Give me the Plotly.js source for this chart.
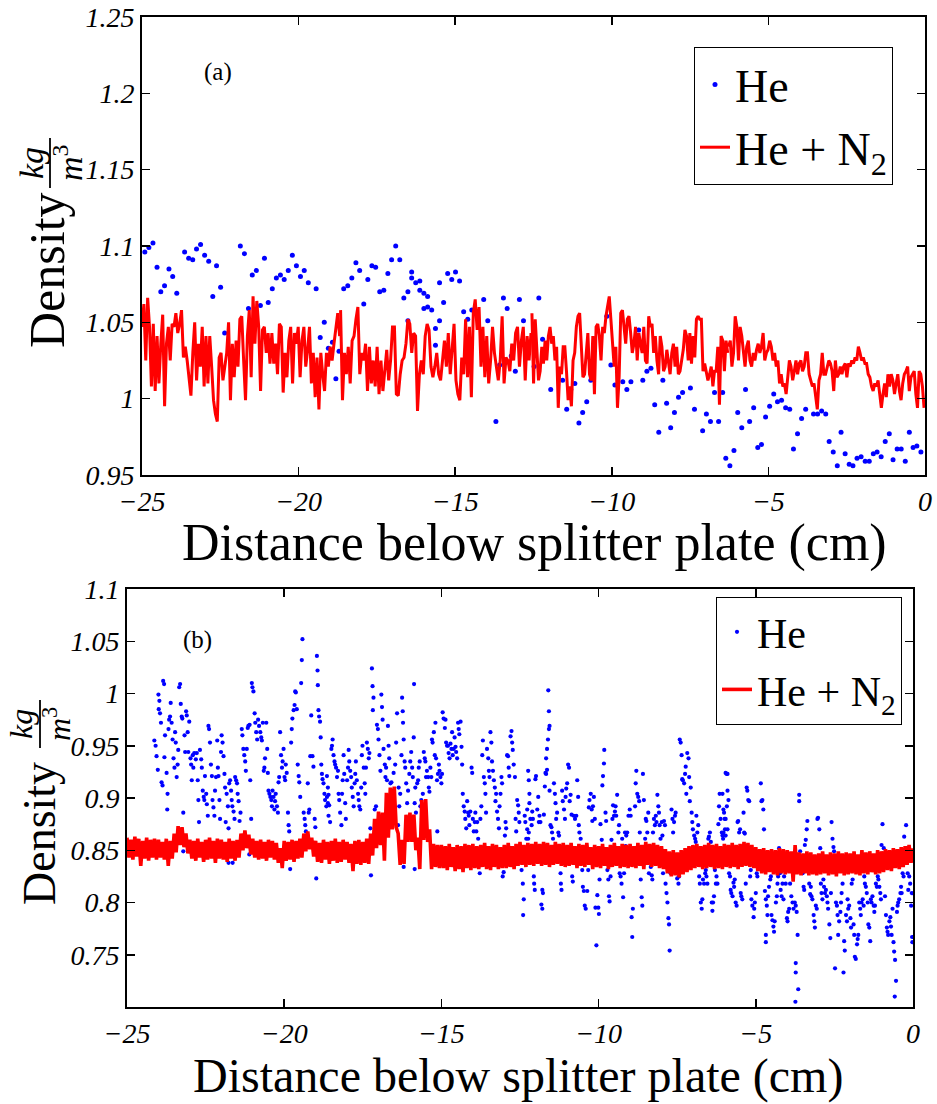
<!DOCTYPE html>
<html><head><meta charset="utf-8">
<script src="https://cdn.plot.ly/plotly-3.0.1.min.js"></script>
<style>html,body{margin:0;padding:0;background:#fff}</style>
</head><body><div id="chart" style="width:937px;height:1104px"></div>
<script>
// ---------- tick labels ----------
const xTickVals = [-25, -20, -15, -10, -5, 0];
const xTickText = ['\u221225', '\u221220', '\u221215', '\u221210', '\u22125', '0'];
const topYTickVals = [0.95, 1, 1.05, 1.1, 1.15, 1.2, 1.25];
const topYTickText = ['0.95', '1', '1.05', '1.1', '1.15', '1.2', '1.25'];
const botYTickVals = [0.75, 0.8, 0.85, 0.9, 0.95, 1, 1.05, 1.1];
const botYTickText = ['0.75', '0.8', '0.85', '0.9', '0.95', '1', '1.05', '1.1'];
const seriesNames = ['He', 'He + N<sub>2</sub>'];

// ---------- panel (a): He points [x, density] ----------
const heTop = [
[-24.91,1.096],[-24.78,1.099],[-24.65,1.102],[-24.52,1.086],[-24.40,1.070],[-24.28,1.074],[-24.14,1.085],[-24.02,1.080],[-23.89,1.069],[-23.64,1.096],
[-23.51,1.092],[-23.38,1.091],[-23.26,1.098],[-23.13,1.101],[-23.00,1.094],[-22.87,1.090],[-22.74,1.067],[-22.62,1.087],[-22.49,1.073],[-22.36,1.043],
[-22.10,1.028],[-21.86,1.100],[-21.73,1.095],[-21.60,1.059],[-21.48,1.081],[-21.35,1.084],[-21.22,1.061],[-21.09,1.092],[-20.97,1.063],[-20.84,1.072],
[-20.71,1.079],[-20.58,1.081],[-20.46,1.078],[-20.33,1.084],[-20.20,1.094],[-20.07,1.087],[-19.94,1.080],[-19.82,1.084],[-19.69,1.076],[-19.44,1.072],
[-19.31,1.040],[-19.18,1.050],[-19.05,1.033],[-18.92,1.037],[-18.81,1.013],[-18.71,1.031],
[-18.56,1.072],[-18.43,1.074],[-18.30,1.079],[-18.17,1.089],[-18.05,1.084],[-17.92,1.062],[-17.79,1.078],[-17.66,1.087],[-17.54,1.086],[-17.41,1.070],
[-17.28,1.071],[-17.15,1.082],[-17.03,1.091],[-16.90,1.100],[-16.77,1.091],[-16.64,1.066],[-16.51,1.070],[-16.39,1.083],[-16.39,1.079],[-16.26,1.076],
[-16.13,1.077],[-16.13,1.071],[-16.00,1.069],[-15.88,1.067],[-16.00,1.059],[-15.88,1.060],[-15.75,1.058],[-16.51,1.051],[-15.63,1.046],[-15.50,1.051],
[-15.50,1.076],[-15.37,1.063],[-15.24,1.082],[-15.11,1.078],[-14.99,1.083],[-14.86,1.077],[-14.73,1.057],[-14.60,1.052],[-14.47,1.058],[-14.09,1.065],
[-13.96,1.051],[-13.70,0.985],[-13.58,1.022],[-13.46,1.066],[-13.34,1.059],[-13.21,1.028],[-13.08,1.018],[-12.95,1.065],[-12.82,1.051],[-15.63,1.035],
[-12.48,1.021],[-12.33,1.066],[-12.21,1.039],[-11.95,1.006],[-11.57,1.012],[-11.44,0.993],[-11.31,1.006],[-11.18,1.010],[-11.05,0.984],[-10.93,0.991],
[-10.80,0.998],[-10.67,1.012],[-10.16,1.054],[-10.03,1.022],[-9.90,1.009],[-9.65,1.011],[-9.52,1.006],[-9.39,1.011],[-9.14,1.045],[-9.01,1.012],
[-8.88,1.018],[-8.75,1.020],[-8.63,0.996],[-8.50,0.978],[-8.37,1.012],[-8.25,0.997],[-8.12,0.981],[-8.00,0.991],[-7.87,1.001],[-7.74,1.004],
[-7.49,1.007],[-7.36,0.993],[-7.10,0.979],[-6.98,0.990],[-6.85,0.985],[-6.72,1.004],[-6.59,0.985],[-6.46,1.004],
[-6.36,0.961],[-6.23,0.956],[-6.10,0.966],[-5.98,0.991],[-5.85,0.981],[-5.73,1.006],[-5.60,0.985],[-5.47,0.994],[-5.34,0.968],[-5.22,0.970],
[-5.09,0.988],[-4.96,0.995],[-4.83,1.003],[-4.71,0.998],[-4.58,0.999],[-4.45,0.994],[-4.32,0.993],[-4.20,0.967],[-4.07,0.977],[-3.94,0.987],
[-3.81,0.993],[-3.56,0.990],[-3.43,0.990],[-3.30,0.992],[-3.17,0.990],[-3.06,0.972],[-2.93,0.965],[-2.80,0.956],[-2.68,0.978],[-2.55,0.964],
[-2.42,0.957],[-2.30,0.956],[-2.17,0.961],[-2.04,0.962],[-1.91,0.959],[-1.78,0.959],[-1.65,0.964],[-1.53,0.965],[-1.40,0.962],[-1.27,0.972],
[-1.14,0.977],[-1.02,0.960],[-0.89,0.967],[-0.76,0.967],[-0.63,0.959],[-0.50,0.978],[-0.38,0.968],[-0.26,0.969],[-0.13,0.965]
];

// ---------- panel (a): He + N2 trace, four evenly sampled stretches ----------
const n2TopSpans = [[-25, -18.69], [-18.66, -12.58], [-12.55, -6.30], [-6.27, -0.03]];
const n2TopA = [
1.047,1.062,1.025,1.066,1.047,1.008,1.049,1.005,1.041,1.010,
1.036,1.055,0.995,1.036,1.047,1.025,1.049,1.047,1.056,1.043,
1.049,1.058,1.027,1.034,1.025,1.014,1.002,1.030,1.050,1.012,
1.036,1.021,1.047,1.008,1.041,1.010,1.041,1.021,0.999,0.990,
0.985,1.027,1.030,1.012,1.021,1.030,1.050,0.999,1.036,1.014,
1.038,1.021,1.052,1.054,1.025,0.999,1.041,1.058,1.014,1.067,
1.036,1.064,1.047,1.005,1.045,1.047,1.030,1.043,1.023,1.043,
1.023,1.036,1.016,1.049,1.047,1.004,1.030,1.014,1.038,1.047,
1.010,1.043,1.036,1.047,1.014,1.038,1.047,1.021,1.032,1.047,
1.010,1.030,1.001,1.027,0.993,1.030,1.016,1.005,1.030,1.021,
1.034,1.025,1.036,1.047,1.056,1.041];
const n2TopB = [
1.058,0.999,1.030,1.016,1.034,1.010,1.038,1.041,1.052,1.060,
1.016,1.030,1.025,1.036,1.005,1.034,1.010,1.025,1.008,1.034,
1.003,1.025,1.005,1.018,1.032,1.012,1.025,1.047,1.047,1.003,
1.002,1.016,1.025,1.027,1.036,1.052,1.049,1.030,1.043,1.041,
0.992,1.016,1.025,1.016,1.041,1.049,1.045,1.021,1.014,1.021,
1.030,1.016,1.012,1.025,1.038,1.021,1.043,1.016,1.034,1.049,
1.012,1.003,0.999,1.027,1.016,1.052,1.014,1.047,1.001,1.056,
1.065,1.045,1.060,1.021,1.047,1.014,1.041,1.010,1.025,1.047,
1.030,1.021,1.012,1.025,1.054,1.010,1.027,1.025,1.018,1.036,
1.025,1.043,1.047,1.021,1.038,1.047,1.012,1.041,1.025,1.043];
const n2TopC = [
1.056,1.010,1.052,1.030,1.012,1.018,1.034,1.023,1.038,1.025,
1.041,1.047,1.036,1.041,1.025,1.034,0.994,1.021,1.016,1.034,
1.034,1.018,0.999,1.008,0.995,1.025,1.030,1.047,1.054,1.056,
1.034,1.014,1.016,1.032,1.043,1.016,1.012,1.041,1.003,1.047,
1.049,1.041,1.025,1.047,1.043,1.054,1.060,1.067,1.052,1.038,
1.021,1.034,0.994,1.014,1.056,1.058,1.047,1.036,1.052,1.054,
1.043,1.030,1.036,1.047,1.025,1.043,1.036,1.030,1.047,1.025,
1.023,1.054,1.047,1.049,1.030,1.041,1.025,1.016,1.041,1.034,
1.018,1.021,1.032,1.023,1.016,1.030,1.036,1.021,1.034,1.016,
1.018,1.025,1.032,1.045,1.041,1.025,1.043,1.023,1.041,1.027,
1.052,1.054,1.052,1.052,1.018,1.023,1.016,1.012,1.016,1.021,
1.008,1.018,1.018,1.034,0.996,1.041,1.038,1.018,1.038,1.030];
const n2TopD = [
1.034,1.038,1.021,1.030,1.054,1.047,1.025,1.047,1.041,1.030,
1.021,1.034,1.038,1.025,1.021,1.030,1.025,1.032,1.036,1.030,
1.034,1.043,1.025,1.030,1.032,1.038,1.034,1.025,1.030,1.021,
1.025,1.010,1.016,1.008,1.010,1.003,1.014,1.025,1.021,1.012,
1.018,1.025,1.016,1.023,1.025,1.018,1.021,1.030,1.030,1.016,
1.012,1.008,1.010,1.003,0.993,1.012,1.016,1.030,1.016,1.016,
1.021,1.025,1.023,1.018,1.005,1.025,1.014,1.016,1.021,1.016,
1.021,1.023,1.014,1.023,1.021,1.025,1.023,1.027,1.025,1.034,
1.030,1.025,1.027,1.023,1.023,1.016,1.014,1.008,1.005,1.010,
1.008,1.012,1.003,0.994,1.003,1.010,1.001,1.016,1.008,1.016,
1.012,1.003,1.010,1.016,1.005,0.999,1.010,1.016,1.018,1.021,
1.005,1.014,1.016,1.018,1.003,0.994,1.018,1.016,1.008,0.994];

// ---------- panel (b): He points [x, density] ----------
const heBottom = [
[-24.13,0.955],[-24.09,0.950],[-24.06,0.940],[-24.02,0.927],[-24.00,0.999],[-23.97,0.993],[-23.99,0.985],[-23.95,0.981],[-23.92,0.972],[-23.90,0.915],
[-23.87,0.912],[-23.85,1.012],[-23.82,1.009],[-23.81,0.939],[-23.79,0.960],[-23.74,0.924],[-23.71,0.904],[-23.72,0.889],[-23.68,0.966],[-23.66,0.975],
[-23.63,0.978],[-23.61,0.991],[-23.58,0.972],[-23.55,0.956],[-23.52,0.938],[-23.49,0.929],[-23.47,0.963],[-23.45,0.953],[-23.42,0.920],[-23.39,0.932],
[-23.37,0.946],[-23.34,1.006],[-23.31,1.009],[-23.29,0.990],[-23.26,0.978],[-23.24,0.976],[-23.21,0.886],[-23.17,0.960],[-23.15,0.944],[-23.12,0.983],
[-23.10,0.979],[-23.07,0.963],[-23.05,0.944],[-23.02,0.973],[-22.98,0.938],[-22.96,0.932],[-22.94,0.917],[-22.91,0.941],[-22.89,0.929],[-22.86,0.943],
[-22.81,0.937],[-22.78,0.943],[-22.75,0.917],[-22.73,0.898],[-22.71,0.877],[-22.68,0.946],[-22.64,0.937],[-22.62,0.929],[-22.59,0.907],[-22.56,0.901],
[-22.54,0.898],[-22.52,0.921],[-22.48,0.904],[-22.46,0.894],[-22.43,0.883],[-22.41,0.969],[-22.39,0.966],[-22.36,0.953],[-22.33,0.932],[-22.30,0.921],
[-22.28,0.898],[-22.25,0.891],[-22.22,0.883],[-22.20,0.907],[-22.17,0.920],[-22.13,0.955],[-22.11,0.929],[-22.09,0.921],[-22.06,0.898],[-22.04,0.880],
[-22.01,0.944],[-21.99,0.960],[-21.96,0.953],[-21.93,0.940],[-21.90,0.923],[-21.88,0.910],[-21.86,0.877],[-21.83,0.904],[-21.79,0.892],[-21.77,0.871],
[-21.75,0.914],[-21.72,0.917],[-21.69,0.907],[-21.67,0.898],[-21.65,0.892],[-21.61,0.887],[-21.58,0.880],[-21.56,0.920],[-21.53,0.917],[-21.50,0.914],
[-21.48,0.904],[-21.45,0.897],[-21.42,0.878],[-21.39,0.886],[-21.35,0.966],[-21.33,0.960],[-21.30,0.947],[-21.27,0.941],[-21.24,0.935],[-21.22,0.926],
[-21.19,0.947],[-21.16,0.967],[-21.14,0.969],[-21.10,0.970],[-21.08,0.917],[-21.05,0.880],[-21.03,1.010],[-21.01,1.006],[-20.98,1.002],[-20.94,0.981],
[-20.92,0.972],[-20.89,0.963],[-20.86,0.956],[-20.83,0.975],[-20.80,0.969],[-20.76,0.963],[-20.73,0.958],[-20.71,0.955],[-20.68,0.972],[-20.65,0.926],
[-20.63,0.929],[-20.61,0.938],[-20.57,0.972],[-20.54,0.947],[-20.52,0.924],[-20.50,0.907],[-20.47,0.904],[-20.44,0.901],[-20.41,0.898],[-20.39,0.892],
[-20.37,0.907],[-20.34,0.901],[-20.31,0.889],[-20.29,0.897],[-20.27,0.904],[-20.23,0.892],[-20.20,0.886],[-20.18,0.915],[-20.16,0.920],[-20.13,0.963],
[-20.10,0.941],[-20.07,0.929],[-20.05,0.935],[-20.02,0.947],[-19.99,0.920],[-19.97,0.917],[-19.95,0.932],[-19.92,0.924],[-19.88,0.886],[-19.86,0.874],
[-19.84,0.868],[-19.81,0.832],[-19.78,0.953],[-19.76,0.966],[-19.74,0.976],[-19.70,0.984],[-19.67,0.989],[-19.65,1.002],[-19.63,1.001],[-19.60,0.985],
[-19.57,0.932],[-19.54,0.921],[-19.52,0.915],[-19.49,0.901],[-19.46,1.010],[-19.44,1.032],[-19.42,1.052],[-19.38,0.886],[-19.35,0.880],[-19.33,0.874],
[-19.31,0.868],[-19.28,0.861],[-19.25,0.914],[-19.22,0.886],[-19.20,0.889],[-19.17,0.940],[-19.14,0.979],[-19.10,0.940],[-19.07,0.930],[-19.03,0.880],
[-19.01,0.872],[-18.98,0.823],[-18.96,1.036],[-18.94,1.022],[-18.93,1.008],[-18.91,0.984],[-18.89,0.978],[-18.86,0.973],[-18.84,0.958],[-18.82,0.932],
[-18.80,0.923],[-18.78,0.918],[-18.75,0.914],[-18.72,0.904],[-18.70,0.898],[-18.66,0.892],[-18.64,0.901],[-18.61,0.895],[-18.59,0.883],
[-23.21,0.849],[-21.77,0.838],[-21.64,0.838],[-21.11,0.846],
[-18.64,0.921],[-18.61,0.910],[-18.59,0.903],[-18.57,0.893],[-18.54,0.877],[-18.50,0.947],[-18.48,0.950],[-18.46,0.956],[-18.43,0.941],[-18.40,0.935],
[-18.38,0.932],[-18.35,0.929],[-18.32,0.920],[-18.29,0.926],[-18.27,0.904],[-18.25,0.898],[-18.22,0.886],[-18.18,0.874],[-18.16,0.904],[-18.14,0.917],
[-18.11,0.941],[-18.09,0.923],[-18.06,0.895],[-18.04,0.880],[-18.00,0.917],[-17.97,0.929],[-17.95,0.946],[-17.93,0.935],[-17.90,0.926],[-17.87,0.920],
[-17.85,0.910],[-17.82,0.901],[-17.79,0.892],[-17.76,0.914],[-17.74,0.923],[-17.72,0.935],[-17.69,0.917],[-17.65,0.904],[-17.63,0.898],[-17.61,0.892],
[-17.58,0.889],[-17.55,0.910],[-17.53,0.941],[-17.51,0.950],[-17.47,0.929],[-17.44,0.914],[-17.42,0.904],[-17.40,0.929],[-17.37,0.953],[-17.34,0.947],
[-17.31,0.938],[-17.29,0.943],[-17.26,0.871],[-17.24,0.826],[-17.21,1.024],[-17.19,1.007],[-17.16,0.996],[-17.18,0.984],[-17.12,0.889],[-17.10,0.878],
[-17.08,0.892],[-17.05,0.970],[-17.02,0.966],[-17.00,0.956],[-16.97,0.941],[-16.94,0.926],[-16.91,0.999],[-16.89,0.987],[-16.87,0.975],[-16.84,0.947],
[-16.80,0.932],[-16.78,0.920],[-16.76,0.929],[-16.73,0.917],[-16.70,0.969],[-16.68,0.950],[-16.66,0.938],[-16.62,0.914],[-16.59,0.915],[-16.57,0.907],
[-16.52,0.924],[-16.49,0.883],[-16.47,0.932],[-16.44,0.953],[-16.41,0.981],[-16.38,0.874],[-16.36,0.910],[-16.34,0.892],[-16.31,0.904],[-16.27,0.941],
[-16.25,0.996],[-16.23,0.983],[-16.22,0.972],[-16.20,0.956],[-16.17,0.935],[-16.15,0.929],[-16.12,0.914],[-16.09,0.895],[-16.06,0.907],[-16.04,0.880],
[-16.02,0.923],[-15.99,0.935],[-15.96,0.944],[-15.93,0.929],[-15.91,0.920],[-15.88,0.958],[-15.87,1.009],[-15.85,0.895],[-15.83,0.910],[-15.81,0.886],
[-15.77,0.914],[-15.74,0.917],[-15.72,0.929],[-15.69,0.935],[-15.67,0.892],[-15.64,0.898],[-15.62,0.880],[-15.59,0.904],[-15.56,0.944],[-15.53,0.938],
[-15.51,0.935],[-15.49,0.920],[-15.46,0.926],[-15.42,0.920],[-15.40,0.910],[-15.38,0.906],[-15.35,0.929],[-15.32,0.920],[-15.30,0.956],[-15.28,0.953],
[-15.24,0.963],[-15.21,0.941],[-15.19,0.972],[-15.17,0.938],[-15.14,0.917],[-15.13,0.868],[-15.11,0.923],[-15.08,0.932],[-15.06,0.926],[-15.03,0.920],
[-15.00,0.914],[-14.98,0.923],[-14.96,0.982],[-14.93,0.976],[-14.89,0.967],[-14.87,0.975],[-14.85,0.953],[-14.82,0.950],[-14.79,0.950],[-14.77,0.943],
[-14.74,0.938],[-14.71,0.952],[-14.68,0.947],[-14.66,0.963],[-14.64,0.941],[-14.61,0.947],[-14.58,0.958],[-14.55,0.949],[-14.53,0.944],[-14.50,0.938],
[-14.47,0.972],[-14.45,0.966],[-14.43,0.961],[-14.39,0.973],[-14.36,0.949],[-14.34,0.932],[-14.32,0.904],[-14.29,0.892],[-14.26,0.887],[-14.24,0.880],
[-14.21,0.871],[-14.18,0.897],[-14.15,0.886],[-14.13,0.883],[-14.11,0.874],[-14.08,0.887],[-14.04,0.929],[-14.02,0.924],[-14.00,0.880],[-13.97,0.868],
[-13.94,0.877],[-13.92,0.886],[-13.89,0.868],[-13.86,0.877],[-13.83,0.861],[-13.81,0.835],[-13.78,0.828],[-13.76,0.880],[-13.73,0.892],[-13.70,0.941],
[-13.68,0.955],[-13.65,0.920],[-13.62,0.914],[-13.60,0.904],[-13.58,0.886],[-13.55,0.947],[-13.51,0.938],[-13.49,0.926],[-13.47,0.920],[-13.44,0.963],
[-13.41,0.953],[-13.39,0.935],[-13.36,0.926],[-13.33,0.917],[-13.30,0.910],[-13.28,0.897],[-13.26,0.904],[-13.23,0.887],[-13.20,0.880],[-13.17,0.871],
[-13.15,0.892],[-13.12,0.904],[-13.09,0.920],[-13.07,0.914],[-13.05,0.825],[-13.02,0.829],[-12.98,0.864],[-12.96,0.877],[-12.94,0.871],[-12.91,0.941],
[-12.88,0.940],[-12.86,0.929],[-12.84,0.921],[-12.80,0.959],[-12.77,0.964],[-12.75,0.953],[-12.73,0.946],[-12.70,0.932],[-12.66,0.920],[-12.64,0.880],
[-12.62,0.868],[-12.59,0.898],[-12.56,0.893],[-12.54,0.886],[-12.52,0.877],[-12.48,0.849],[-12.45,0.831],[-12.41,0.818],[-12.38,0.803],[-12.40,0.788],
[-12.35,0.883],[-12.33,0.877],[-12.30,0.861],[-12.27,0.889],[-12.24,0.926],[-12.22,0.917],[-12.20,0.904],[-16.20,0.834],[-15.85,0.832],
[-12.27,0.870],[-12.24,0.861],[-12.22,0.867],[-12.20,0.895],[-12.17,0.880],[-12.13,0.874],[-12.11,0.887],[-12.09,0.880],[-12.06,0.825],[-12.05,0.818],
[-12.03,0.812],[-12.01,0.918],[-11.99,0.921],[-11.95,0.889],[-11.92,0.901],[-11.90,0.877],[-11.88,0.883],[-11.85,0.877],[-11.82,0.798],[-11.79,0.794],
[-11.79,0.812],[-11.77,0.809],[-11.74,0.884],[-11.71,0.911],[-11.69,0.924],[-11.67,0.923],[-11.67,0.938],[-11.64,0.927],[-11.64,0.947],[-11.61,0.956],
[-11.58,0.966],[-11.56,0.969],[-11.58,0.983],[-11.60,1.003],[-11.56,0.907],[-11.53,0.874],[-11.50,0.872],[-11.48,0.867],[-11.45,0.861],[-11.42,0.914],
[-11.39,0.904],[-11.37,0.895],[-11.35,0.880],[-11.32,0.886],[-11.28,0.867],[-11.26,0.864],[-11.21,0.828],[-11.20,0.818],[-11.18,0.812],[-11.16,0.907],
[-11.14,0.897],[-11.10,0.889],[-11.07,0.880],[-11.05,0.901],[-11.03,0.909],[-11.00,0.914],[-10.97,0.932],[-10.94,0.929],[-10.92,0.897],[-10.89,0.903],
[-10.86,0.884],[-10.84,0.825],[-10.82,0.820],[-10.79,0.883],[-10.75,0.880],[-10.71,0.883],[-10.68,0.917],[-10.65,0.901],[-10.63,0.874],[-10.61,0.867],
[-10.57,0.861],[-10.54,0.847],[-10.52,0.831],[-10.50,0.815],[-10.47,0.811],[-10.44,0.797],[-10.41,0.794],[-10.36,0.811],[-10.33,0.831],[-10.31,0.891],
[-10.29,0.898],[-10.25,0.904],[-10.22,0.889],[-10.20,0.878],[-10.18,0.892],[-10.15,0.901],[-10.12,0.880],[-10.10,0.795],[-10.07,0.759],[-10.04,0.807],
[-10.01,0.795],[-9.99,0.789],[-9.97,0.822],[-9.94,0.875],[-9.90,0.860],[-9.88,0.912],[-9.86,0.921],[-9.83,0.933],[-9.82,0.946],[-9.78,0.886],
[-9.76,0.878],[-9.72,0.831],[-9.69,0.822],[-9.67,0.806],[-9.65,0.801],[-9.62,0.825],[-9.59,0.860],[-9.56,0.880],[-9.54,0.893],[-9.51,0.883],
[-9.48,0.887],[-9.46,0.892],[-9.44,0.883],[-9.41,0.903],[-9.37,0.867],[-9.35,0.874],[-9.33,0.828],[-9.30,0.825],[-9.27,0.818],[-9.25,0.861],
[-9.22,0.805],[-9.19,0.828],[-9.16,0.867],[-9.14,0.854],[-9.12,0.864],[-9.09,0.867],[-9.05,0.883],[-9.01,0.889],[-8.98,0.883],[-8.95,0.786],
[-8.93,0.767],[-8.91,0.794],[-8.87,0.852],[-8.84,0.892],[-8.82,0.914],[-8.80,0.926],[-8.77,0.904],[-8.74,0.901],[-8.71,0.897],[-8.69,0.867],
[-8.66,0.822],[-8.63,0.805],[-8.61,0.797],[-8.59,0.923],[-8.56,0.898],[-8.52,0.861],[-8.50,0.880],[-8.48,0.878],[-8.45,0.867],[-8.42,0.886],
[-8.40,0.828],[-8.34,0.834],[-8.31,0.826],[-8.29,0.822],[-8.27,0.867],[-8.24,0.880],[-8.21,0.874],[-8.18,0.883],[-8.16,0.877],[-8.13,0.903],
[-8.10,0.892],[-8.08,0.886],[-8.06,0.874],[-8.03,0.861],[-7.99,0.877],[-7.97,0.864],[-7.95,0.828],[-7.92,0.878],[-7.89,0.874],[-7.87,0.818],
[-7.84,0.809],[-7.81,0.800],[-7.78,0.785],[-7.76,0.779],[-7.74,0.754],[-7.71,0.828],[-7.68,0.889],[-7.65,0.880],[-7.63,0.867],[-7.60,0.877],
[-7.57,0.883],[-7.55,0.886],[-7.50,0.823],[-7.46,0.818],[-7.44,0.825],[-7.42,0.956],[-7.39,0.953],[-7.36,0.941],[-7.34,0.918],[-7.32,0.917],
[-7.28,0.914],[-7.25,0.923],[-7.23,0.930],[-7.21,0.904],[-7.18,0.943],[-7.14,0.938],[-7.12,0.920],[-7.10,0.897],[-7.07,0.910],[-7.04,0.886],
[-7.02,0.877],[-7.00,0.870],[-6.96,0.864],[-6.93,0.861],[-6.91,0.858],[-6.89,0.883],[-6.86,0.867],[-6.83,0.874],[-6.80,0.825],[-6.78,0.818],
[-6.75,0.800],[-6.72,0.794],[-6.70,0.803],[-6.68,0.822],[-6.645,0.818],[-6.61,0.828],[-6.59,0.831],[-6.57,0.825],[-6.54,0.818],[-6.51,0.861],
[-6.49,0.863],[-6.46,0.867],[-6.43,0.858],[-6.40,0.800],[-6.38,0.792],[-6.36,0.800],[-6.33,0.806],[-6.30,0.831],[-6.27,0.818],[-6.25,0.825],
[-6.22,0.818],[-6.19,0.875],[-6.17,0.892],[-6.15,0.904],[-6.12,0.880],[-6.08,0.867],[-6.06,0.864],[-6.04,0.861],[-6.01,0.886],[-5.98,0.870],
[-5.96,0.880],[-5.93,0.923],[-5.90,0.907],[-5.87,0.898],
[-6.06,0.904],[-6.03,0.889],[-5.99,0.880],[-6.03,0.867],[-5.96,0.924],[-5.96,0.864],[-5.92,0.892],[-5.90,0.923],[-5.90,0.870],
[-5.85,0.828],[-5.82,0.825],[-5.80,0.812],[-5.78,0.809],[-5.74,0.806],[-5.71,0.819],[-5.69,0.815],[-5.67,0.822],[-5.64,0.800],[-5.61,0.797],
[-5.58,0.877],[-5.56,0.878],[-5.53,0.867],[-5.50,0.870],[-5.48,0.809],[-5.46,0.806],[-5.43,0.803],[-5.39,0.886],[-5.37,0.867],[-5.35,0.866],
[-5.32,0.818],[-5.29,0.910],[-5.27,0.907],[-5.24,0.898],[-5.21,0.897],[-5.18,0.825],[-5.16,0.831],[-5.14,0.803],[-5.11,0.797],[-5.07,0.786],
[-5.05,0.794],[-5.03,0.800],[-5.00,0.809],[-4.97,0.828],[-4.95,0.825],[-4.89,0.837],[-4.86,0.849],[-4.84,0.914],[-4.82,0.897],[-4.79,0.898],
[-4.76,0.889],[-4.74,0.870],[-4.71,0.811],[-4.68,0.803],[-4.68,0.769],[-4.68,0.762],[-4.65,0.797],[-4.63,0.788],[-4.61,0.806],[-4.58,0.815],
[-4.54,0.822],[-4.52,0.825],[-4.50,0.788],[-4.47,0.783],[-4.44,0.777],[-4.42,0.772],[-4.40,0.782],[-4.36,0.800],[-4.33,0.806],[-4.31,0.818],
[-4.29,0.825],[-4.26,0.852],[-4.23,0.828],[-4.21,0.812],[-4.18,0.806],[-4.15,0.818],[-4.12,0.803],[-4.10,0.825],[-4.08,0.837],[-4.05,0.818],
[-4.01,0.785],[-3.99,0.782],[-3.97,0.791],[-3.94,0.794],[-3.91,0.818],[-3.89,0.831],[-3.87,0.806],[-3.83,0.800],[-3.80,0.794],[-3.78,0.831],
[-3.76,0.800],[-3.73,0.797],[-3.70,0.791],[-3.67,0.769],[-3.73,0.742],[-3.73,0.733],[-3.65,0.717],[-3.74,0.705],[-3.62,0.903],[-3.62,0.897],
[-3.59,0.849],[-3.57,0.837],[-3.55,0.831],[-3.51,0.828],[-3.48,0.815],[-3.46,0.812],[-3.44,0.855],[-3.41,0.860],[-3.38,0.870],[-3.36,0.878],
[-3.33,0.843],[-3.30,0.818],[-3.27,0.808],[-3.25,0.815],[-3.23,0.806],[-3.20,0.803],[-3.16,0.788],[-3.14,0.782],[-3.12,0.776],[-3.09,0.797],
[-3.06,0.794],[-3.04,0.880],[-3.02,0.881],[-2.98,0.870],[-2.95,0.852],[-2.93,0.818],[-2.91,0.809],[-2.88,0.803],[-2.85,0.822],[-2.83,0.815],
[-2.80,0.809],[-2.77,0.812],[-2.74,0.806],[-2.72,0.800],[-2.70,0.794],[-2.66,0.779],[-2.63,0.766],[-2.61,0.809],[-2.59,0.877],[-2.56,0.861],
[-2.53,0.853],[-2.51,0.849],[-2.48,0.737],[-2.45,0.800],[-2.42,0.797],[-2.40,0.788],[-2.38,0.769],[-2.35,0.782],[-2.31,0.791],[-2.29,0.800],
[-2.27,0.809],[-2.24,0.818],[-2.21,0.733],[-2.19,0.763],[-2.17,0.754],[-2.13,0.788],[-2.10,0.782],[-2.08,0.803],[-2.06,0.794],[-2.03,0.797],
[-1.99,0.785],[-1.97,0.776],[-1.95,0.818],[-1.92,0.822],[-1.89,0.779],[-1.87,0.769],[-1.85,0.748],[-1.82,0.746],[-1.78,0.760],[-1.76,0.765],
[-1.74,0.769],[-1.71,0.800],[-1.68,0.794],[-1.66,0.788],[-1.64,0.800],[-1.60,0.803],[-1.57,0.797],[-1.55,0.825],[-1.53,0.818],[-1.50,0.815],
[-1.47,0.809],[-1.44,0.800],[-1.42,0.779],[-1.39,0.776],[-1.36,0.763],[-1.34,0.803],[-1.32,0.800],[-1.29,0.806],[-1.25,0.797],[-1.23,0.791],
[-1.21,0.797],[-1.18,0.818],[-1.15,0.815],[-1.12,0.825],[-1.10,0.822],[-1.07,0.815],[-1.04,0.809],[-1.02,0.803],[-1.00,0.855],[-0.97,0.875],
[-0.93,0.852],[-0.91,0.843],[-0.89,0.806],[-0.86,0.788],[-0.83,0.776],[-0.81,0.772],[-0.79,0.769],[-0.75,0.782],[-0.72,0.786],[-0.70,0.777],
[-0.68,0.769],[-0.65,0.794],[-0.62,0.762],[-0.60,0.753],[-0.57,0.745],[-0.54,0.725],[-0.58,0.710],[-0.51,0.791],[-0.49,0.797],[-0.47,0.800],
[-0.44,0.803],[-0.40,0.809],[-0.38,0.815],[-0.36,0.809],[-0.33,0.828],[-0.30,0.825],[-0.28,0.863],[-0.22,0.874],[-0.19,0.852],[-0.17,0.828],
[-0.15,0.812],[-0.12,0.825],[-0.09,0.818],[-0.06,0.797],[-0.04,0.809],[-0.03,0.767],[-0.02,0.762]
];

// ---------- panel (b): He + N2 trace (evenly sampled, upper/lower edges of the noisy trace) ----------
const n2BottomSpan = [-25, 0];
const n2Bottom = [
0.862,0.843,0.860,0.841,0.863,0.844,0.861,0.835,0.859,0.842,0.862,0.840,0.860,0.843,0.861,0.841,
0.860,0.843,0.858,0.841,0.861,0.835,0.859,0.842,0.866,0.848,0.873,0.855,0.872,0.853,0.866,0.847,
0.860,0.842,0.859,0.840,0.861,0.843,0.858,0.839,0.860,0.841,0.862,0.842,0.859,0.838,0.861,0.842,
0.860,0.841,0.858,0.839,0.861,0.842,0.859,0.840,0.860,0.843,0.866,0.850,0.869,0.852,0.865,0.846,
0.861,0.843,0.859,0.841,0.860,0.842,0.858,0.840,0.860,0.843,0.859,0.841,0.857,0.838,0.852,0.833,
0.859,0.840,0.858,0.841,0.860,0.839,0.859,0.842,0.861,0.843,0.866,0.849,0.868,0.851,0.862,0.844,
0.859,0.839,0.857,0.838,0.860,0.841,0.858,0.837,0.859,0.840,0.861,0.838,0.858,0.839,0.860,0.841,
0.858,0.838,0.856,0.830,0.859,0.837,0.860,0.836,0.858,0.838,0.861,0.837,0.866,0.845,0.880,0.852,
0.887,0.855,0.886,0.840,0.905,0.862,0.910,0.870,0.911,0.872,0.866,0.836,0.860,0.837,0.884,0.858,
0.886,0.858,0.884,0.850,0.862,0.832,0.898,0.860,0.899,0.858,0.870,0.832,0.856,0.834,0.855,0.833,
0.855,0.833,0.854,0.831,0.856,0.834,0.853,0.830,0.855,0.832,0.854,0.829,0.856,0.833,0.855,0.831,
0.856,0.833,0.854,0.832,0.855,0.834,0.857,0.832,0.854,0.831,0.856,0.834,0.855,0.832,0.853,0.833,
0.855,0.833,0.857,0.834,0.854,0.832,0.856,0.835,0.858,0.836,0.855,0.834,0.857,0.836,0.856,0.835,
0.858,0.837,0.856,0.835,0.858,0.836,0.857,0.834,0.855,0.836,0.858,0.837,0.856,0.835,0.857,0.834,
0.855,0.835,0.857,0.836,0.854,0.833,0.856,0.835,0.855,0.834,0.857,0.836,0.853,0.832,0.855,0.834,
0.854,0.833,0.856,0.835,0.853,0.832,0.855,0.834,0.857,0.835,0.854,0.833,0.856,0.834,0.855,0.833,
0.856,0.834,0.854,0.833,0.857,0.835,0.855,0.832,0.858,0.836,0.856,0.834,0.857,0.835,0.855,0.833,
0.854,0.832,0.851,0.828,0.849,0.825,0.850,0.826,0.848,0.824,0.850,0.827,0.852,0.829,0.854,0.831,
0.855,0.833,0.856,0.834,0.854,0.832,0.855,0.833,0.857,0.834,0.855,0.832,0.856,0.833,0.854,0.832,
0.856,0.834,0.855,0.833,0.857,0.834,0.855,0.832,0.856,0.834,0.858,0.835,0.857,0.834,0.855,0.833,
0.853,0.830,0.851,0.828,0.852,0.827,0.850,0.829,0.851,0.827,0.850,0.826,0.852,0.828,0.851,0.827,
0.850,0.828,0.849,0.820,0.855,0.827,0.848,0.826,0.847,0.828,0.849,0.826,0.848,0.827,0.846,0.826,
0.847,0.827,0.849,0.828,0.846,0.826,0.848,0.827,0.847,0.825,0.849,0.828,0.847,0.826,0.848,0.827,
0.847,0.828,0.849,0.827,0.846,0.826,0.850,0.828,0.848,0.827,0.849,0.829,0.847,0.827,0.850,0.828,
0.849,0.829,0.851,0.831,0.850,0.830,0.852,0.833,0.851,0.832,0.853,0.834,0.854,0.836,0.855,0.838,
0.852];

// ---------- build traces ----------
const BLUE = '#0000ff', RED = '#ff0000';
const FONT = 'Liberation Serif';
function evenTrace(vals, span, xa, ya, show, leg, width) {
  return {type:'scatter', mode:'lines', y: vals, x0: span[0], dx: (span[1]-span[0])/(vals.length-1),
    xaxis: xa, yaxis: ya, name: seriesNames[1], showlegend: show, legend: leg,
    line:{color:RED, width: width}, hoverinfo:'skip'};
}
const traces = [
  {type:'scatter', mode:'markers', x: heTop.map(p=>p[0]), y: heTop.map(p=>p[1]), xaxis:'x', yaxis:'y',
   name: seriesNames[0], legend:'legend', marker:{color:BLUE, size:5}},
  evenTrace(n2TopA, n2TopSpans[0], 'x', 'y', true, 'legend', 3),
  evenTrace(n2TopB, n2TopSpans[1], 'x', 'y', false, 'legend', 3),
  evenTrace(n2TopC, n2TopSpans[2], 'x', 'y', false, 'legend', 3),
  evenTrace(n2TopD, n2TopSpans[3], 'x', 'y', false, 'legend', 3),
  {type:'scatter', mode:'markers', x: heBottom.map(p=>p[0]), y: heBottom.map(p=>p[1]), xaxis:'x2', yaxis:'y2',
   name: seriesNames[0], legend:'legend2', marker:{color:BLUE, size:4.2}},
  evenTrace(n2Bottom, n2BottomSpan, 'x2', 'y2', true, 'legend2', 3.6)
];

const italic = arr => arr.map(t => '<i>' + t + '</i>');
function axisBase(extra) {
  return Object.assign({showgrid:false, zeroline:false, showline:true, linecolor:'black', linewidth:2,
    mirror:'ticks', ticks:'inside', ticklen:8, tickwidth:1.5, tickcolor:'black',
    tickfont:{family:FONT, size:28, color:'black'}}, extra);
}
const W = 937, H = 1104;
const px = v => v / W, py = v => 1 - v / H;

const layout = {
  width: W, height: H, margin:{l:0, r:0, t:0, b:0},
  paper_bgcolor:'white', plot_bgcolor:'white',
  font:{family:FONT, color:'black'},
  xaxis: axisBase({domain:[px(142), px(925)], range:[-25,0], anchor:'y', tickvals:xTickVals, ticktext:italic(xTickText)}),
  yaxis: axisBase({domain:[py(475), py(17)], range:[0.95,1.25], anchor:'x', tickvals:topYTickVals, ticktext:italic(topYTickText)}),
  xaxis2: axisBase({domain:[px(127), px(913)], range:[-25,0], anchor:'y2', tickvals:xTickVals, ticktext:italic(xTickText)}),
  yaxis2: axisBase({domain:[py(1007), py(589)], range:[0.7,1.1], anchor:'x2', tickvals:botYTickVals, ticktext:italic(botYTickText)}),
  legend: {x: px(893), xanchor:'right', y: py(47), yanchor:'top', bgcolor:'white', bordercolor:'black', borderwidth:1,
    font:{family:FONT, size:46, color:'black'}, itemwidth:30, tracegroupgap:0},
  legend2: {x: px(902), xanchor:'right', y: py(597), yanchor:'top', bgcolor:'white', bordercolor:'black', borderwidth:1,
    font:{family:FONT, size:42, color:'black'}, itemwidth:30, tracegroupgap:0},
  annotations: [
    {text:'Distance below splitter plate (cm)', xref:'paper', yref:'paper', x:px(534), y:py(543), showarrow:false,
     xanchor:'center', yanchor:'middle', font:{family:FONT, size:52, color:'black'}},
    {text:'Distance below splitter plate (cm)', xref:'paper', yref:'paper', x:px(518), y:py(1076), showarrow:false,
     xanchor:'center', yanchor:'middle', font:{family:FONT, size:48, color:'black'}},
    {text:'Density', xref:'paper', yref:'paper', x:px(47), y:py(270), textangle:-90, showarrow:false,
     xanchor:'center', yanchor:'middle', font:{family:FONT, size:50, color:'black'}},
    {text:'<i>kg</i>', xref:'paper', yref:'paper', x:px(31), y:py(163), textangle:-90, showarrow:false,
     xanchor:'center', yanchor:'middle', font:{family:FONT, size:34, color:'black'}},
    {text:'<i>m</i><sup>3</sup>', xref:'paper', yref:'paper', x:px(68), y:py(163), textangle:-90, showarrow:false,
     xanchor:'center', yanchor:'middle', font:{family:FONT, size:34, color:'black'}},
    {text:'Density', xref:'paper', yref:'paper', x:px(39), y:py(834), textangle:-90, showarrow:false,
     xanchor:'center', yanchor:'middle', font:{family:FONT, size:46, color:'black'}},
    {text:'<i>kg</i>', xref:'paper', yref:'paper', x:px(21), y:py(724), textangle:-90, showarrow:false,
     xanchor:'center', yanchor:'middle', font:{family:FONT, size:32, color:'black'}},
    {text:'<i>m</i><sup>3</sup>', xref:'paper', yref:'paper', x:px(57), y:py(724), textangle:-90, showarrow:false,
     xanchor:'center', yanchor:'middle', font:{family:FONT, size:32, color:'black'}},
    {text:'(a)', xref:'paper', yref:'paper', x:px(218), y:py(72), showarrow:false,
     xanchor:'center', yanchor:'middle', font:{family:FONT, size:25, color:'black'}},
    {text:'(b)', xref:'paper', yref:'paper', x:px(197), y:py(640), showarrow:false,
     xanchor:'center', yanchor:'middle', font:{family:FONT, size:25, color:'black'}}
  ],
  shapes: [
    {type:'line', xref:'paper', yref:'paper', x0:px(50), x1:px(50), y0:py(138), y1:py(188), line:{color:'black', width:1.8}},
    {type:'line', xref:'paper', yref:'paper', x0:px(40), x1:px(40), y0:py(700), y1:py(748), line:{color:'black', width:1.8}}
  ]
};

Plotly.newPlot('chart', traces, layout, {staticPlot:true, displayModeBar:false});
</script>
</body></html>
